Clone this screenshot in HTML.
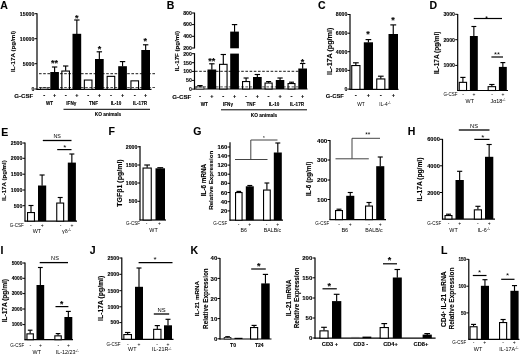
<!DOCTYPE html>
<html><head><meta charset="utf-8"><title>Figure</title>
<style>
html,body{margin:0;padding:0;background:#fff;}
body{width:520px;height:355px;overflow:hidden;}
svg{display:block;font-family:"Liberation Sans",sans-serif;}
</style></head><body>
<svg width="520" height="355" viewBox="0 0 520 355">
<rect width="520" height="355" fill="#fff"/>
<g filter="url(#soft)">
<defs><filter id="soft" x="-2%" y="-2%" width="104%" height="104%"><feGaussianBlur stdDeviation="0.3"/></filter></defs>
<text x="0.20" y="9.20" font-size="10.5" font-weight="700" stroke="#000" stroke-width="0.12" text-anchor="start" fill="#000">A</text>
<line x1="37.00" y1="13.30" x2="37.00" y2="89.75" stroke="#000" stroke-width="1.2"/>
<line x1="36.60" y1="89.30" x2="151.50" y2="89.30" stroke="#000" stroke-width="1.2"/>
<line x1="34.50" y1="13.70" x2="37.00" y2="13.70" stroke="#000" stroke-width="1.0"/>
<text x="34.30" y="15.57" font-size="5.2" font-weight="700" stroke="#000" stroke-width="0.12" text-anchor="end" fill="#000">15000</text>
<line x1="34.50" y1="38.70" x2="37.00" y2="38.70" stroke="#000" stroke-width="1.0"/>
<text x="34.30" y="40.57" font-size="5.2" font-weight="700" stroke="#000" stroke-width="0.12" text-anchor="end" fill="#000">10000</text>
<line x1="34.50" y1="63.70" x2="37.00" y2="63.70" stroke="#000" stroke-width="1.0"/>
<text x="34.30" y="65.57" font-size="5.2" font-weight="700" stroke="#000" stroke-width="0.12" text-anchor="end" fill="#000">5000</text>
<line x1="34.50" y1="89.00" x2="37.00" y2="89.00" stroke="#000" stroke-width="1.0"/>
<text x="34.30" y="90.87" font-size="5.2" font-weight="700" stroke="#000" stroke-width="0.12" text-anchor="end" fill="#000">0</text>
<text x="14.90" y="51.40" font-size="6.21" font-weight="700" stroke="#000" stroke-width="0.12" text-anchor="middle" fill="#000" transform="rotate(-90 14.90 51.40)">IL-17A (pg/ml)</text>
<rect x="40.35" y="87.95" width="7.60" height="1.35" fill="#fff" stroke="#000" stroke-width="0.7"/>
<line x1="54.60" y1="67.00" x2="54.60" y2="72.30" stroke="#000" stroke-width="1.15"/>
<line x1="51.93" y1="67.00" x2="57.27" y2="67.00" stroke="#000" stroke-width="1.15"/>
<rect x="50.30" y="72.00" width="8.60" height="17.30" fill="#000"/>
<line x1="65.65" y1="66.00" x2="65.65" y2="70.80" stroke="#000" stroke-width="1.15"/>
<line x1="62.95" y1="66.00" x2="68.35" y2="66.00" stroke="#000" stroke-width="1.15"/>
<rect x="61.85" y="71.05" width="7.60" height="18.25" fill="#fff" stroke="#000" stroke-width="1.1"/>
<line x1="76.85" y1="20.00" x2="76.85" y2="34.10" stroke="#000" stroke-width="1.15"/>
<line x1="74.15" y1="20.00" x2="79.55" y2="20.00" stroke="#000" stroke-width="1.15"/>
<rect x="72.50" y="33.80" width="8.70" height="55.50" fill="#000"/>
<rect x="84.35" y="80.05" width="7.60" height="9.25" fill="#fff" stroke="#000" stroke-width="1.1"/>
<line x1="99.35" y1="51.80" x2="99.35" y2="59.30" stroke="#000" stroke-width="1.15"/>
<line x1="96.65" y1="51.80" x2="102.05" y2="51.80" stroke="#000" stroke-width="1.15"/>
<rect x="95.00" y="59.00" width="8.70" height="30.30" fill="#000"/>
<rect x="107.15" y="76.35" width="7.60" height="12.95" fill="#fff" stroke="#000" stroke-width="1.1"/>
<line x1="122.55" y1="61.60" x2="122.55" y2="66.50" stroke="#000" stroke-width="1.15"/>
<line x1="119.85" y1="61.60" x2="125.25" y2="61.60" stroke="#000" stroke-width="1.15"/>
<rect x="118.20" y="66.20" width="8.70" height="23.10" fill="#000"/>
<rect x="130.95" y="80.85" width="7.60" height="8.45" fill="#fff" stroke="#000" stroke-width="1.1"/>
<line x1="145.65" y1="44.80" x2="145.65" y2="50.30" stroke="#000" stroke-width="1.15"/>
<line x1="142.95" y1="44.80" x2="148.35" y2="44.80" stroke="#000" stroke-width="1.15"/>
<rect x="141.30" y="50.00" width="8.70" height="39.30" fill="#000"/>
<line x1="39" y1="73.7" x2="155.5" y2="73.7" stroke="#000" stroke-width="0.9" stroke-dasharray="2.6 1.6"/>
<line x1="39" y1="87.5" x2="155.5" y2="87.5" stroke="#000" stroke-width="0.7" stroke-dasharray="2.6 1.6"/>
<text x="54.50" y="66.09" font-size="9" font-weight="700" stroke="#000" stroke-width="0.12" text-anchor="middle" fill="#000">**</text>
<text x="76.80" y="21.09" font-size="9" font-weight="700" stroke="#000" stroke-width="0.12" text-anchor="middle" fill="#000">*</text>
<text x="99.60" y="51.89" font-size="9" font-weight="700" stroke="#000" stroke-width="0.12" text-anchor="middle" fill="#000">*</text>
<text x="145.20" y="44.49" font-size="9" font-weight="700" stroke="#000" stroke-width="0.12" text-anchor="middle" fill="#000">*</text>
<text x="33.30" y="97.60" font-size="6.1" font-weight="700" stroke="#000" stroke-width="0.12" text-anchor="end" fill="#000">G-CSF</text>
<text x="44.15" y="97.20" font-size="6" font-weight="700" stroke="#000" stroke-width="0.12" text-anchor="middle" fill="#000">-</text>
<text x="54.60" y="97.20" font-size="5.5" font-weight="700" stroke="#000" stroke-width="0.12" text-anchor="middle" fill="#000">+</text>
<text x="65.65" y="97.20" font-size="6" font-weight="700" stroke="#000" stroke-width="0.12" text-anchor="middle" fill="#000">-</text>
<text x="76.85" y="97.20" font-size="5.5" font-weight="700" stroke="#000" stroke-width="0.12" text-anchor="middle" fill="#000">+</text>
<text x="88.15" y="97.20" font-size="6" font-weight="700" stroke="#000" stroke-width="0.12" text-anchor="middle" fill="#000">-</text>
<text x="99.35" y="97.20" font-size="5.5" font-weight="700" stroke="#000" stroke-width="0.12" text-anchor="middle" fill="#000">+</text>
<text x="110.95" y="97.20" font-size="6" font-weight="700" stroke="#000" stroke-width="0.12" text-anchor="middle" fill="#000">-</text>
<text x="122.55" y="97.20" font-size="5.5" font-weight="700" stroke="#000" stroke-width="0.12" text-anchor="middle" fill="#000">+</text>
<text x="134.75" y="97.20" font-size="6" font-weight="700" stroke="#000" stroke-width="0.12" text-anchor="middle" fill="#000">-</text>
<text x="145.65" y="97.20" font-size="5.5" font-weight="700" stroke="#000" stroke-width="0.12" text-anchor="middle" fill="#000">+</text>
<text x="49.60" y="105.00" font-size="4.6" font-weight="700" stroke="#000" stroke-width="0.12" text-anchor="middle" fill="#000">WT</text>
<text x="71.30" y="105.00" font-size="4.6" font-weight="700" stroke="#000" stroke-width="0.12" text-anchor="middle" fill="#000">IFNγ</text>
<text x="93.50" y="105.00" font-size="4.6" font-weight="700" stroke="#000" stroke-width="0.12" text-anchor="middle" fill="#000">TNF</text>
<text x="116.00" y="105.00" font-size="4.6" font-weight="700" stroke="#000" stroke-width="0.12" text-anchor="middle" fill="#000">IL-10</text>
<text x="140.00" y="105.00" font-size="4.6" font-weight="700" stroke="#000" stroke-width="0.12" text-anchor="middle" fill="#000">IL-17R</text>
<line x1="63.50" y1="109.30" x2="150.00" y2="109.30" stroke="#000" stroke-width="1.0"/>
<text x="108.00" y="116.40" font-size="4.8" font-weight="700" stroke="#000" stroke-width="0.12" text-anchor="middle" fill="#000">KO animals</text>
<text x="166.70" y="9.20" font-size="10.5" font-weight="700" stroke="#000" stroke-width="0.12" text-anchor="start" fill="#000">B</text>
<line x1="194.50" y1="12.60" x2="194.50" y2="48.40" stroke="#000" stroke-width="1.2"/>
<line x1="194.50" y1="53.20" x2="194.50" y2="89.45" stroke="#000" stroke-width="1.2"/>
<line x1="194.10" y1="89.00" x2="307.50" y2="89.00" stroke="#000" stroke-width="1.2"/>
<line x1="192.00" y1="13.00" x2="194.50" y2="13.00" stroke="#000" stroke-width="1.0"/>
<text x="191.80" y="14.85" font-size="5.2" font-weight="700" stroke="#000" stroke-width="0.12" text-anchor="end" fill="#000">800</text>
<line x1="192.00" y1="24.60" x2="194.50" y2="24.60" stroke="#000" stroke-width="1.0"/>
<text x="191.80" y="26.45" font-size="5.2" font-weight="700" stroke="#000" stroke-width="0.12" text-anchor="end" fill="#000">600</text>
<line x1="192.00" y1="36.30" x2="194.50" y2="36.30" stroke="#000" stroke-width="1.0"/>
<text x="191.80" y="38.15" font-size="5.2" font-weight="700" stroke="#000" stroke-width="0.12" text-anchor="end" fill="#000">400</text>
<line x1="192.00" y1="48.00" x2="194.50" y2="48.00" stroke="#000" stroke-width="1.0"/>
<text x="191.80" y="49.85" font-size="5.2" font-weight="700" stroke="#000" stroke-width="0.12" text-anchor="end" fill="#000">200</text>
<line x1="192.00" y1="53.70" x2="194.50" y2="53.70" stroke="#000" stroke-width="1.0"/>
<text x="191.80" y="55.55" font-size="5.2" font-weight="700" stroke="#000" stroke-width="0.12" text-anchor="end" fill="#000">200</text>
<line x1="192.00" y1="62.70" x2="194.50" y2="62.70" stroke="#000" stroke-width="1.0"/>
<text x="191.80" y="64.55" font-size="5.2" font-weight="700" stroke="#000" stroke-width="0.12" text-anchor="end" fill="#000">150</text>
<line x1="192.00" y1="71.40" x2="194.50" y2="71.40" stroke="#000" stroke-width="1.0"/>
<text x="191.80" y="73.25" font-size="5.2" font-weight="700" stroke="#000" stroke-width="0.12" text-anchor="end" fill="#000">100</text>
<line x1="192.00" y1="80.40" x2="194.50" y2="80.40" stroke="#000" stroke-width="1.0"/>
<text x="191.80" y="82.25" font-size="5.2" font-weight="700" stroke="#000" stroke-width="0.12" text-anchor="end" fill="#000">50</text>
<line x1="192.00" y1="89.10" x2="194.50" y2="89.10" stroke="#000" stroke-width="1.0"/>
<text x="191.80" y="90.95" font-size="5.2" font-weight="700" stroke="#000" stroke-width="0.12" text-anchor="end" fill="#000">0</text>
<text x="178.80" y="51.10" font-size="6.13" font-weight="700" stroke="#000" stroke-width="0.12" text-anchor="middle" fill="#000" transform="rotate(-90 178.80 51.10)">IL-17F (pg/ml)</text>
<line x1="199.95" y1="85.60" x2="199.95" y2="86.90" stroke="#000" stroke-width="1.15"/>
<line x1="197.25" y1="85.60" x2="202.65" y2="85.60" stroke="#000" stroke-width="1.15"/>
<rect x="195.95" y="86.95" width="8.00" height="2.05" fill="#fff" stroke="#000" stroke-width="0.7"/>
<line x1="211.85" y1="63.80" x2="211.85" y2="69.80" stroke="#000" stroke-width="1.15"/>
<line x1="209.15" y1="63.80" x2="214.55" y2="63.80" stroke="#000" stroke-width="1.15"/>
<rect x="207.50" y="69.50" width="8.70" height="19.50" fill="#000"/>
<line x1="223.30" y1="54.50" x2="223.30" y2="64.10" stroke="#000" stroke-width="1.15"/>
<line x1="220.63" y1="54.50" x2="225.97" y2="54.50" stroke="#000" stroke-width="1.15"/>
<rect x="219.55" y="64.35" width="7.50" height="24.65" fill="#fff" stroke="#000" stroke-width="1.1"/>
<line x1="234.55" y1="24.60" x2="234.55" y2="31.90" stroke="#000" stroke-width="1.15"/>
<line x1="231.85" y1="24.60" x2="237.25" y2="24.60" stroke="#000" stroke-width="1.15"/>
<rect x="230.20" y="31.60" width="8.70" height="57.40" fill="#000"/>
<line x1="246.10" y1="78.00" x2="246.10" y2="81.30" stroke="#000" stroke-width="1.15"/>
<line x1="243.56" y1="78.00" x2="248.64" y2="78.00" stroke="#000" stroke-width="1.15"/>
<rect x="242.55" y="81.55" width="7.10" height="7.45" fill="#fff" stroke="#000" stroke-width="1.1"/>
<line x1="257.35" y1="74.50" x2="257.35" y2="77.30" stroke="#000" stroke-width="1.15"/>
<line x1="254.65" y1="74.50" x2="260.05" y2="74.50" stroke="#000" stroke-width="1.15"/>
<rect x="253.00" y="77.00" width="8.70" height="12.00" fill="#000"/>
<line x1="268.60" y1="81.60" x2="268.60" y2="82.80" stroke="#000" stroke-width="1.15"/>
<line x1="266.06" y1="81.60" x2="271.14" y2="81.60" stroke="#000" stroke-width="1.15"/>
<rect x="265.05" y="83.05" width="7.10" height="5.95" fill="#fff" stroke="#000" stroke-width="1.1"/>
<line x1="280.05" y1="78.00" x2="280.05" y2="80.30" stroke="#000" stroke-width="1.15"/>
<line x1="277.42" y1="78.00" x2="282.69" y2="78.00" stroke="#000" stroke-width="1.15"/>
<rect x="275.80" y="80.00" width="8.50" height="9.00" fill="#000"/>
<line x1="291.50" y1="82.20" x2="291.50" y2="83.30" stroke="#000" stroke-width="1.15"/>
<line x1="289.02" y1="82.20" x2="293.98" y2="82.20" stroke="#000" stroke-width="1.15"/>
<rect x="288.05" y="83.55" width="6.90" height="5.45" fill="#fff" stroke="#000" stroke-width="1.1"/>
<line x1="302.65" y1="63.50" x2="302.65" y2="68.80" stroke="#000" stroke-width="1.15"/>
<line x1="299.95" y1="63.50" x2="305.35" y2="63.50" stroke="#000" stroke-width="1.15"/>
<rect x="298.30" y="68.50" width="8.70" height="20.50" fill="#000"/>
<rect x="229.5" y="48.3" width="11" height="5.3" fill="#fff"/>
<line x1="195" y1="71.3" x2="307.5" y2="71.3" stroke="#000" stroke-width="0.9" stroke-dasharray="2.6 1.6"/>
<line x1="195" y1="86.9" x2="307.5" y2="86.9" stroke="#000" stroke-width="0.7" stroke-dasharray="2.6 1.6"/>
<text x="211.80" y="63.79" font-size="9" font-weight="700" stroke="#000" stroke-width="0.12" text-anchor="middle" fill="#000">**</text>
<text x="302.60" y="64.59" font-size="9" font-weight="700" stroke="#000" stroke-width="0.12" text-anchor="middle" fill="#000">*</text>
<text x="191.30" y="98.90" font-size="6.1" font-weight="700" stroke="#000" stroke-width="0.12" text-anchor="end" fill="#000">G-CSF</text>
<text x="199.95" y="98.10" font-size="6" font-weight="700" stroke="#000" stroke-width="0.12" text-anchor="middle" fill="#000">-</text>
<text x="211.85" y="98.10" font-size="5.5" font-weight="700" stroke="#000" stroke-width="0.12" text-anchor="middle" fill="#000">+</text>
<text x="223.30" y="98.10" font-size="6" font-weight="700" stroke="#000" stroke-width="0.12" text-anchor="middle" fill="#000">-</text>
<text x="234.55" y="98.10" font-size="5.5" font-weight="700" stroke="#000" stroke-width="0.12" text-anchor="middle" fill="#000">+</text>
<text x="246.10" y="98.10" font-size="6" font-weight="700" stroke="#000" stroke-width="0.12" text-anchor="middle" fill="#000">-</text>
<text x="257.35" y="98.10" font-size="5.5" font-weight="700" stroke="#000" stroke-width="0.12" text-anchor="middle" fill="#000">+</text>
<text x="268.60" y="98.10" font-size="6" font-weight="700" stroke="#000" stroke-width="0.12" text-anchor="middle" fill="#000">-</text>
<text x="280.05" y="98.10" font-size="5.5" font-weight="700" stroke="#000" stroke-width="0.12" text-anchor="middle" fill="#000">+</text>
<text x="291.50" y="98.10" font-size="6" font-weight="700" stroke="#000" stroke-width="0.12" text-anchor="middle" fill="#000">-</text>
<text x="302.65" y="98.10" font-size="5.5" font-weight="700" stroke="#000" stroke-width="0.12" text-anchor="middle" fill="#000">+</text>
<text x="204.30" y="106.00" font-size="4.6" font-weight="700" stroke="#000" stroke-width="0.12" text-anchor="middle" fill="#000">WT</text>
<text x="228.00" y="106.00" font-size="4.6" font-weight="700" stroke="#000" stroke-width="0.12" text-anchor="middle" fill="#000">IFNγ</text>
<text x="251.00" y="106.00" font-size="4.6" font-weight="700" stroke="#000" stroke-width="0.12" text-anchor="middle" fill="#000">TNF</text>
<text x="274.00" y="106.00" font-size="4.6" font-weight="700" stroke="#000" stroke-width="0.12" text-anchor="middle" fill="#000">IL-10</text>
<text x="297.00" y="106.00" font-size="4.6" font-weight="700" stroke="#000" stroke-width="0.12" text-anchor="middle" fill="#000">IL-17R</text>
<line x1="221.00" y1="109.80" x2="307.00" y2="109.80" stroke="#000" stroke-width="1.0"/>
<text x="264.00" y="117.00" font-size="4.8" font-weight="700" stroke="#000" stroke-width="0.12" text-anchor="middle" fill="#000">KO animals</text>
<text x="318.00" y="9.20" font-size="10.5" font-weight="700" stroke="#000" stroke-width="0.12" text-anchor="start" fill="#000">C</text>
<line x1="350.00" y1="14.10" x2="350.00" y2="89.85" stroke="#000" stroke-width="1.2"/>
<line x1="349.60" y1="89.40" x2="398.50" y2="89.40" stroke="#000" stroke-width="1.2"/>
<line x1="347.50" y1="14.50" x2="350.00" y2="14.50" stroke="#000" stroke-width="1.0"/>
<text x="347.30" y="16.37" font-size="5.2" font-weight="700" stroke="#000" stroke-width="0.12" text-anchor="end" fill="#000">8000</text>
<line x1="347.50" y1="33.20" x2="350.00" y2="33.20" stroke="#000" stroke-width="1.0"/>
<text x="347.30" y="35.07" font-size="5.2" font-weight="700" stroke="#000" stroke-width="0.12" text-anchor="end" fill="#000">6000</text>
<line x1="347.50" y1="51.70" x2="350.00" y2="51.70" stroke="#000" stroke-width="1.0"/>
<text x="347.30" y="53.57" font-size="5.2" font-weight="700" stroke="#000" stroke-width="0.12" text-anchor="end" fill="#000">4000</text>
<line x1="347.50" y1="70.40" x2="350.00" y2="70.40" stroke="#000" stroke-width="1.0"/>
<text x="347.30" y="72.27" font-size="5.2" font-weight="700" stroke="#000" stroke-width="0.12" text-anchor="end" fill="#000">2000</text>
<line x1="347.50" y1="89.10" x2="350.00" y2="89.10" stroke="#000" stroke-width="1.0"/>
<text x="347.30" y="90.97" font-size="5.2" font-weight="700" stroke="#000" stroke-width="0.12" text-anchor="end" fill="#000">0</text>
<text x="332.20" y="51.40" font-size="7.15" font-weight="700" stroke="#000" stroke-width="0.12" text-anchor="middle" fill="#000" transform="rotate(-90 332.20 51.40)">IL-17A (pg/ml)</text>
<line x1="355.85" y1="62.80" x2="355.85" y2="65.30" stroke="#000" stroke-width="1.15"/>
<line x1="352.97" y1="62.80" x2="358.73" y2="62.80" stroke="#000" stroke-width="1.15"/>
<rect x="351.75" y="65.55" width="8.20" height="23.85" fill="#fff" stroke="#000" stroke-width="1.1"/>
<line x1="368.40" y1="39.60" x2="368.40" y2="42.60" stroke="#000" stroke-width="1.15"/>
<line x1="365.55" y1="39.60" x2="371.25" y2="39.60" stroke="#000" stroke-width="1.15"/>
<rect x="363.80" y="42.30" width="9.20" height="47.10" fill="#000"/>
<line x1="380.80" y1="76.20" x2="380.80" y2="78.70" stroke="#000" stroke-width="1.15"/>
<line x1="377.95" y1="76.20" x2="383.65" y2="76.20" stroke="#000" stroke-width="1.15"/>
<rect x="376.75" y="78.95" width="8.10" height="10.45" fill="#fff" stroke="#000" stroke-width="1.1"/>
<line x1="393.25" y1="24.90" x2="393.25" y2="34.30" stroke="#000" stroke-width="1.15"/>
<line x1="390.31" y1="24.90" x2="396.19" y2="24.90" stroke="#000" stroke-width="1.15"/>
<rect x="388.50" y="34.00" width="9.50" height="55.40" fill="#000"/>
<text x="368.00" y="37.39" font-size="9" font-weight="700" stroke="#000" stroke-width="0.12" text-anchor="middle" fill="#000">*</text>
<text x="393.00" y="23.19" font-size="9" font-weight="700" stroke="#000" stroke-width="0.12" text-anchor="middle" fill="#000">*</text>
<text x="343.90" y="98.00" font-size="5.8" font-weight="700" stroke="#000" stroke-width="0.12" text-anchor="end" fill="#000">G-CSF</text>
<text x="355.85" y="97.20" font-size="6" font-weight="700" stroke="#000" stroke-width="0.12" text-anchor="middle" fill="#000">-</text>
<text x="368.40" y="97.20" font-size="5.5" font-weight="700" stroke="#000" stroke-width="0.12" text-anchor="middle" fill="#000">+</text>
<text x="380.80" y="97.20" font-size="6" font-weight="700" stroke="#000" stroke-width="0.12" text-anchor="middle" fill="#000">-</text>
<text x="393.25" y="97.20" font-size="5.5" font-weight="700" stroke="#000" stroke-width="0.12" text-anchor="middle" fill="#000">+</text>
<text x="361.00" y="105.80" font-size="4.8" text-anchor="middle" fill="#000">WT</text>
<text x="385.00" y="105.80" font-size="4.8" text-anchor="middle" fill="#000">IL-4<tspan font-size="3.2" dy="-1.8">-/-</tspan></text>
<text x="429.50" y="9.20" font-size="10.5" font-weight="700" stroke="#000" stroke-width="0.12" text-anchor="start" fill="#000">D</text>
<line x1="457.70" y1="13.90" x2="457.70" y2="90.95" stroke="#000" stroke-width="1.2"/>
<line x1="457.30" y1="90.50" x2="508.00" y2="90.50" stroke="#000" stroke-width="1.2"/>
<line x1="455.20" y1="14.30" x2="457.70" y2="14.30" stroke="#000" stroke-width="1.0"/>
<text x="455.00" y="16.17" font-size="5.2" font-weight="700" stroke="#000" stroke-width="0.12" text-anchor="end" fill="#000">3000</text>
<line x1="455.20" y1="39.70" x2="457.70" y2="39.70" stroke="#000" stroke-width="1.0"/>
<text x="455.00" y="41.57" font-size="5.2" font-weight="700" stroke="#000" stroke-width="0.12" text-anchor="end" fill="#000">2000</text>
<line x1="455.20" y1="65.40" x2="457.70" y2="65.40" stroke="#000" stroke-width="1.0"/>
<text x="455.00" y="67.27" font-size="5.2" font-weight="700" stroke="#000" stroke-width="0.12" text-anchor="end" fill="#000">1000</text>
<text x="439.30" y="52.80" font-size="6.43" font-weight="700" stroke="#000" stroke-width="0.12" text-anchor="middle" fill="#000" transform="rotate(-90 439.30 52.80)">IL-17A (pg/ml)</text>
<line x1="462.90" y1="77.40" x2="462.90" y2="82.10" stroke="#000" stroke-width="1.15"/>
<line x1="460.30" y1="77.40" x2="465.50" y2="77.40" stroke="#000" stroke-width="1.15"/>
<rect x="459.25" y="82.35" width="7.30" height="8.15" fill="#fff" stroke="#000" stroke-width="1.1"/>
<line x1="473.85" y1="26.50" x2="473.85" y2="36.30" stroke="#000" stroke-width="1.15"/>
<line x1="471.40" y1="26.50" x2="476.30" y2="26.50" stroke="#000" stroke-width="1.15"/>
<rect x="469.90" y="36.00" width="7.90" height="54.50" fill="#000"/>
<line x1="491.85" y1="84.50" x2="491.85" y2="86.40" stroke="#000" stroke-width="1.15"/>
<line x1="489.22" y1="84.50" x2="494.49" y2="84.50" stroke="#000" stroke-width="1.15"/>
<rect x="488.15" y="86.65" width="7.40" height="3.85" fill="#fff" stroke="#000" stroke-width="1.1"/>
<line x1="502.85" y1="62.60" x2="502.85" y2="67.20" stroke="#000" stroke-width="1.15"/>
<line x1="500.40" y1="62.60" x2="505.30" y2="62.60" stroke="#000" stroke-width="1.15"/>
<rect x="498.90" y="66.90" width="7.90" height="23.60" fill="#000"/>
<line x1="473.80" y1="18.50" x2="502.00" y2="18.50" stroke="#000" stroke-width="1.2"/>
<text x="486.50" y="20.58" font-size="8" text-anchor="middle" fill="#000">*</text>
<line x1="491.40" y1="57.00" x2="503.00" y2="57.00" stroke="#000" stroke-width="1.2"/>
<text x="496.90" y="56.73" font-size="7.5" text-anchor="middle" fill="#000">**</text>
<text x="457.40" y="96.30" font-size="4.5" text-anchor="end" fill="#000">G-CSF</text>
<text x="463.00" y="96.40" font-size="5" text-anchor="middle" fill="#000">-</text>
<text x="474.00" y="96.40" font-size="5" text-anchor="middle" fill="#000">+</text>
<text x="492.00" y="96.40" font-size="5" text-anchor="middle" fill="#000">-</text>
<text x="503.00" y="96.40" font-size="5" text-anchor="middle" fill="#000">+</text>
<text x="469.80" y="103.20" font-size="5.4" text-anchor="middle" fill="#000">WT</text>
<text x="498.00" y="103.20" font-size="5.4" text-anchor="middle" fill="#000">Jα18<tspan font-size="3.4" dy="-1.8">-/-</tspan></text>
<text x="1.20" y="135.60" font-size="10.5" font-weight="700" stroke="#000" stroke-width="0.12" text-anchor="start" fill="#000">E</text>
<line x1="25.00" y1="142.60" x2="25.00" y2="221.55" stroke="#000" stroke-width="1.2"/>
<line x1="24.60" y1="221.10" x2="77.00" y2="221.10" stroke="#000" stroke-width="1.2"/>
<line x1="22.50" y1="143.00" x2="25.00" y2="143.00" stroke="#000" stroke-width="1.0"/>
<text x="22.30" y="144.87" font-size="5.2" font-weight="700" stroke="#000" stroke-width="0.12" text-anchor="end" fill="#000">2500</text>
<line x1="22.50" y1="158.30" x2="25.00" y2="158.30" stroke="#000" stroke-width="1.0"/>
<text x="22.30" y="160.17" font-size="5.2" font-weight="700" stroke="#000" stroke-width="0.12" text-anchor="end" fill="#000">2000</text>
<line x1="22.50" y1="174.20" x2="25.00" y2="174.20" stroke="#000" stroke-width="1.0"/>
<text x="22.30" y="176.07" font-size="5.2" font-weight="700" stroke="#000" stroke-width="0.12" text-anchor="end" fill="#000">1500</text>
<line x1="22.50" y1="190.00" x2="25.00" y2="190.00" stroke="#000" stroke-width="1.0"/>
<text x="22.30" y="191.87" font-size="5.2" font-weight="700" stroke="#000" stroke-width="0.12" text-anchor="end" fill="#000">1000</text>
<line x1="22.50" y1="205.70" x2="25.00" y2="205.70" stroke="#000" stroke-width="1.0"/>
<text x="22.30" y="207.57" font-size="5.2" font-weight="700" stroke="#000" stroke-width="0.12" text-anchor="end" fill="#000">500</text>
<text x="5.60" y="180.50" font-size="6.12" font-weight="700" stroke="#000" stroke-width="0.12" text-anchor="middle" fill="#000" transform="rotate(-90 5.60 180.50)">IL-17A (pg/ml)</text>
<line x1="31.00" y1="205.50" x2="31.00" y2="212.30" stroke="#000" stroke-width="1.15"/>
<line x1="28.52" y1="205.50" x2="33.48" y2="205.50" stroke="#000" stroke-width="1.15"/>
<rect x="27.55" y="212.55" width="6.90" height="8.55" fill="#fff" stroke="#000" stroke-width="1.1"/>
<line x1="42.10" y1="175.00" x2="42.10" y2="185.80" stroke="#000" stroke-width="1.15"/>
<line x1="39.56" y1="175.00" x2="44.64" y2="175.00" stroke="#000" stroke-width="1.15"/>
<rect x="38.00" y="185.50" width="8.20" height="35.60" fill="#000"/>
<line x1="60.20" y1="197.50" x2="60.20" y2="202.80" stroke="#000" stroke-width="1.15"/>
<line x1="57.72" y1="197.50" x2="62.68" y2="197.50" stroke="#000" stroke-width="1.15"/>
<rect x="56.75" y="203.05" width="6.90" height="18.05" fill="#fff" stroke="#000" stroke-width="1.1"/>
<line x1="71.85" y1="154.00" x2="71.85" y2="162.90" stroke="#000" stroke-width="1.15"/>
<line x1="69.34" y1="154.00" x2="74.36" y2="154.00" stroke="#000" stroke-width="1.15"/>
<rect x="67.80" y="162.60" width="8.10" height="58.50" fill="#000"/>
<line x1="42.80" y1="140.50" x2="71.50" y2="140.50" stroke="#000" stroke-width="1.3"/>
<text x="57.15" y="138.30" font-size="5.3" text-anchor="middle" fill="#000">NS</text>
<line x1="57.20" y1="149.60" x2="71.50" y2="149.60" stroke="#000" stroke-width="1.2"/>
<text x="64.70" y="150.38" font-size="8" text-anchor="middle" fill="#000">*</text>
<text x="23.70" y="226.90" font-size="4.5" text-anchor="end" fill="#000">G-CSF</text>
<text x="30.80" y="227.00" font-size="5" text-anchor="middle" fill="#000">-</text>
<text x="42.30" y="227.00" font-size="5" text-anchor="middle" fill="#000">+</text>
<text x="60.50" y="227.00" font-size="5" text-anchor="middle" fill="#000">-</text>
<text x="72.00" y="227.00" font-size="5" text-anchor="middle" fill="#000">+</text>
<text x="36.90" y="233.00" font-size="5.4" text-anchor="middle" fill="#000">WT</text>
<text x="66.50" y="233.00" font-size="5.4" text-anchor="middle" fill="#000">γδ<tspan font-size="3.4" dy="-1.8">-/-</tspan></text>
<text x="108.50" y="135.20" font-size="10.5" font-weight="700" stroke="#000" stroke-width="0.12" text-anchor="start" fill="#000">F</text>
<line x1="140.00" y1="145.90" x2="140.00" y2="220.45" stroke="#000" stroke-width="1.2"/>
<line x1="139.60" y1="220.00" x2="166.00" y2="220.00" stroke="#000" stroke-width="1.2"/>
<line x1="137.50" y1="146.80" x2="140.00" y2="146.80" stroke="#000" stroke-width="1.0"/>
<text x="137.30" y="148.67" font-size="5.2" font-weight="700" stroke="#000" stroke-width="0.12" text-anchor="end" fill="#000">2000</text>
<line x1="137.50" y1="165.00" x2="140.00" y2="165.00" stroke="#000" stroke-width="1.0"/>
<text x="137.30" y="166.87" font-size="5.2" font-weight="700" stroke="#000" stroke-width="0.12" text-anchor="end" fill="#000">1500</text>
<line x1="137.50" y1="183.00" x2="140.00" y2="183.00" stroke="#000" stroke-width="1.0"/>
<text x="137.30" y="184.87" font-size="5.2" font-weight="700" stroke="#000" stroke-width="0.12" text-anchor="end" fill="#000">1000</text>
<line x1="137.50" y1="201.30" x2="140.00" y2="201.30" stroke="#000" stroke-width="1.0"/>
<text x="137.30" y="203.17" font-size="5.2" font-weight="700" stroke="#000" stroke-width="0.12" text-anchor="end" fill="#000">500</text>
<text x="121.70" y="183.00" font-size="6.99" font-weight="700" stroke="#000" stroke-width="0.12" text-anchor="middle" fill="#000" transform="rotate(-90 121.70 183.00)">TGFβ1 (pg/ml)</text>
<line x1="147.15" y1="165.00" x2="147.15" y2="167.80" stroke="#000" stroke-width="1.15"/>
<line x1="144.27" y1="165.00" x2="150.03" y2="165.00" stroke="#000" stroke-width="1.15"/>
<rect x="143.05" y="168.05" width="8.20" height="51.95" fill="#fff" stroke="#000" stroke-width="1.1"/>
<line x1="160.25" y1="167.70" x2="160.25" y2="168.60" stroke="#000" stroke-width="1.15"/>
<line x1="157.31" y1="167.70" x2="163.19" y2="167.70" stroke="#000" stroke-width="1.15"/>
<rect x="155.50" y="168.30" width="9.50" height="51.70" fill="#000"/>
<text x="140.00" y="225.20" font-size="4.5" text-anchor="end" fill="#000">G-CSF</text>
<text x="146.50" y="225.30" font-size="5" text-anchor="middle" fill="#000">-</text>
<text x="159.50" y="225.30" font-size="5" text-anchor="middle" fill="#000">+</text>
<text x="153.50" y="232.00" font-size="5.4" text-anchor="middle" fill="#000">WT</text>
<text x="193.30" y="135.20" font-size="10.5" font-weight="700" stroke="#000" stroke-width="0.12" text-anchor="start" fill="#000">G</text>
<line x1="230.00" y1="142.20" x2="230.00" y2="220.65" stroke="#000" stroke-width="1.2"/>
<line x1="229.60" y1="220.20" x2="283.00" y2="220.20" stroke="#000" stroke-width="1.2"/>
<line x1="227.50" y1="147.00" x2="230.00" y2="147.00" stroke="#000" stroke-width="1.0"/>
<text x="227.30" y="149.12" font-size="5.9" font-weight="700" stroke="#000" stroke-width="0.12" text-anchor="end" fill="#000">160</text>
<line x1="227.50" y1="155.90" x2="230.00" y2="155.90" stroke="#000" stroke-width="1.0"/>
<text x="227.30" y="158.02" font-size="5.9" font-weight="700" stroke="#000" stroke-width="0.12" text-anchor="end" fill="#000">140</text>
<line x1="227.50" y1="165.10" x2="230.00" y2="165.10" stroke="#000" stroke-width="1.0"/>
<text x="227.30" y="167.22" font-size="5.9" font-weight="700" stroke="#000" stroke-width="0.12" text-anchor="end" fill="#000">120</text>
<line x1="227.50" y1="174.20" x2="230.00" y2="174.20" stroke="#000" stroke-width="1.0"/>
<text x="227.30" y="176.32" font-size="5.9" font-weight="700" stroke="#000" stroke-width="0.12" text-anchor="end" fill="#000">100</text>
<line x1="227.50" y1="183.30" x2="230.00" y2="183.30" stroke="#000" stroke-width="1.0"/>
<text x="227.30" y="185.42" font-size="5.9" font-weight="700" stroke="#000" stroke-width="0.12" text-anchor="end" fill="#000">80</text>
<line x1="227.50" y1="192.50" x2="230.00" y2="192.50" stroke="#000" stroke-width="1.0"/>
<text x="227.30" y="194.62" font-size="5.9" font-weight="700" stroke="#000" stroke-width="0.12" text-anchor="end" fill="#000">60</text>
<line x1="227.50" y1="201.70" x2="230.00" y2="201.70" stroke="#000" stroke-width="1.0"/>
<text x="227.30" y="203.82" font-size="5.9" font-weight="700" stroke="#000" stroke-width="0.12" text-anchor="end" fill="#000">40</text>
<line x1="227.50" y1="210.90" x2="230.00" y2="210.90" stroke="#000" stroke-width="1.0"/>
<text x="227.30" y="213.02" font-size="5.9" font-weight="700" stroke="#000" stroke-width="0.12" text-anchor="end" fill="#000">20</text>
<text x="205.60" y="180.00" font-size="6.32" font-weight="700" stroke="#000" stroke-width="0.12" text-anchor="middle" fill="#000" transform="rotate(-90 205.60 180.00)">IL-6 mRNA</text>
<text x="213.00" y="180.30" font-size="6.22" font-weight="700" stroke="#000" stroke-width="0.12" text-anchor="middle" fill="#000" transform="rotate(-90 213.00 180.30)">Relative Expression</text>
<line x1="238.80" y1="191.40" x2="238.80" y2="192.30" stroke="#000" stroke-width="1.15"/>
<line x1="236.44" y1="191.40" x2="241.16" y2="191.40" stroke="#000" stroke-width="1.15"/>
<rect x="235.55" y="192.55" width="6.50" height="27.65" fill="#fff" stroke="#000" stroke-width="1.1"/>
<line x1="249.80" y1="185.50" x2="249.80" y2="186.60" stroke="#000" stroke-width="1.15"/>
<line x1="247.32" y1="185.50" x2="252.28" y2="185.50" stroke="#000" stroke-width="1.15"/>
<rect x="245.80" y="186.30" width="8.00" height="33.90" fill="#000"/>
<line x1="266.90" y1="183.00" x2="266.90" y2="189.80" stroke="#000" stroke-width="1.15"/>
<line x1="264.48" y1="183.00" x2="269.32" y2="183.00" stroke="#000" stroke-width="1.15"/>
<rect x="263.55" y="190.05" width="6.70" height="30.15" fill="#fff" stroke="#000" stroke-width="1.1"/>
<line x1="277.80" y1="143.00" x2="277.80" y2="152.80" stroke="#000" stroke-width="1.15"/>
<line x1="275.32" y1="143.00" x2="280.28" y2="143.00" stroke="#000" stroke-width="1.15"/>
<rect x="273.80" y="152.50" width="8.00" height="67.70" fill="#000"/>
<line x1="235.00" y1="159.50" x2="267.50" y2="159.50" stroke="#444" stroke-width="1.0"/>
<line x1="250.80" y1="140.00" x2="250.80" y2="159.50" stroke="#444" stroke-width="1.0"/>
<line x1="250.80" y1="140.00" x2="277.50" y2="140.00" stroke="#444" stroke-width="1.0"/>
<text x="264.00" y="139.60" font-size="4.5" text-anchor="middle" fill="#000">*</text>
<text x="227.30" y="225.40" font-size="4.5" text-anchor="end" fill="#000">G-CSF</text>
<text x="238.50" y="225.50" font-size="5" text-anchor="middle" fill="#000">-</text>
<text x="249.70" y="225.50" font-size="5" text-anchor="middle" fill="#000">+</text>
<text x="266.50" y="225.50" font-size="5" text-anchor="middle" fill="#000">-</text>
<text x="277.70" y="225.50" font-size="5" text-anchor="middle" fill="#000">+</text>
<text x="243.80" y="231.50" font-size="5.2" text-anchor="middle" fill="#000">B6</text>
<text x="272.50" y="231.50" font-size="5.2" text-anchor="middle" fill="#000">BALB/c</text>
<line x1="330.00" y1="140.10" x2="330.00" y2="220.05" stroke="#000" stroke-width="1.2"/>
<line x1="329.60" y1="219.60" x2="386.00" y2="219.60" stroke="#000" stroke-width="1.2"/>
<line x1="327.50" y1="140.50" x2="330.00" y2="140.50" stroke="#000" stroke-width="1.0"/>
<text x="327.30" y="142.73" font-size="6.2" font-weight="700" stroke="#000" stroke-width="0.12" text-anchor="end" fill="#000">400</text>
<line x1="327.50" y1="160.00" x2="330.00" y2="160.00" stroke="#000" stroke-width="1.0"/>
<text x="327.30" y="162.23" font-size="6.2" font-weight="700" stroke="#000" stroke-width="0.12" text-anchor="end" fill="#000">300</text>
<line x1="327.50" y1="180.00" x2="330.00" y2="180.00" stroke="#000" stroke-width="1.0"/>
<text x="327.30" y="182.23" font-size="6.2" font-weight="700" stroke="#000" stroke-width="0.12" text-anchor="end" fill="#000">200</text>
<line x1="327.50" y1="199.50" x2="330.00" y2="199.50" stroke="#000" stroke-width="1.0"/>
<text x="327.30" y="201.73" font-size="6.2" font-weight="700" stroke="#000" stroke-width="0.12" text-anchor="end" fill="#000">100</text>
<text x="311.20" y="178.80" font-size="6.37" font-weight="700" stroke="#000" stroke-width="0.12" text-anchor="middle" fill="#000" transform="rotate(-90 311.20 178.80)">IL-6 (pg/ml)</text>
<line x1="339.00" y1="209.20" x2="339.00" y2="210.30" stroke="#000" stroke-width="1.15"/>
<line x1="336.52" y1="209.20" x2="341.48" y2="209.20" stroke="#000" stroke-width="1.15"/>
<rect x="335.55" y="210.55" width="6.90" height="9.05" fill="#fff" stroke="#000" stroke-width="1.1"/>
<line x1="350.25" y1="192.50" x2="350.25" y2="196.10" stroke="#000" stroke-width="1.15"/>
<line x1="347.74" y1="192.50" x2="352.76" y2="192.50" stroke="#000" stroke-width="1.15"/>
<rect x="346.20" y="195.80" width="8.10" height="23.80" fill="#000"/>
<line x1="369.00" y1="202.50" x2="369.00" y2="205.80" stroke="#000" stroke-width="1.15"/>
<line x1="366.52" y1="202.50" x2="371.48" y2="202.50" stroke="#000" stroke-width="1.15"/>
<rect x="365.55" y="206.05" width="6.90" height="13.55" fill="#fff" stroke="#000" stroke-width="1.1"/>
<line x1="380.25" y1="157.00" x2="380.25" y2="166.50" stroke="#000" stroke-width="1.15"/>
<line x1="377.74" y1="157.00" x2="382.76" y2="157.00" stroke="#000" stroke-width="1.15"/>
<rect x="376.20" y="166.20" width="8.10" height="53.40" fill="#000"/>
<line x1="335.50" y1="158.80" x2="368.80" y2="158.80" stroke="#444" stroke-width="1.0"/>
<line x1="352.00" y1="138.30" x2="352.00" y2="158.80" stroke="#444" stroke-width="1.0"/>
<line x1="352.00" y1="138.30" x2="380.00" y2="138.30" stroke="#444" stroke-width="1.0"/>
<text x="367.80" y="136.60" font-size="6.5" text-anchor="middle" fill="#000">**</text>
<text x="329.30" y="225.40" font-size="4.5" text-anchor="end" fill="#000">G-CSF</text>
<text x="339.00" y="225.50" font-size="5" text-anchor="middle" fill="#000">-</text>
<text x="350.20" y="225.50" font-size="5" text-anchor="middle" fill="#000">+</text>
<text x="369.00" y="225.50" font-size="5" text-anchor="middle" fill="#000">-</text>
<text x="380.20" y="225.50" font-size="5" text-anchor="middle" fill="#000">+</text>
<text x="344.80" y="231.80" font-size="5.6" text-anchor="middle" fill="#000">B6</text>
<text x="374.00" y="231.50" font-size="5.2" text-anchor="middle" fill="#000">BALB/c</text>
<text x="407.80" y="134.60" font-size="10.5" font-weight="700" stroke="#000" stroke-width="0.12" text-anchor="start" fill="#000">H</text>
<line x1="442.50" y1="138.90" x2="442.50" y2="219.55" stroke="#000" stroke-width="1.2"/>
<line x1="442.10" y1="219.10" x2="495.00" y2="219.10" stroke="#000" stroke-width="1.2"/>
<line x1="440.00" y1="139.30" x2="442.50" y2="139.30" stroke="#000" stroke-width="1.0"/>
<text x="439.80" y="141.35" font-size="5.7" font-weight="700" stroke="#000" stroke-width="0.12" text-anchor="end" fill="#000">6000</text>
<line x1="440.00" y1="165.80" x2="442.50" y2="165.80" stroke="#000" stroke-width="1.0"/>
<text x="439.80" y="167.85" font-size="5.7" font-weight="700" stroke="#000" stroke-width="0.12" text-anchor="end" fill="#000">4000</text>
<line x1="440.00" y1="192.50" x2="442.50" y2="192.50" stroke="#000" stroke-width="1.0"/>
<text x="439.80" y="194.55" font-size="5.7" font-weight="700" stroke="#000" stroke-width="0.12" text-anchor="end" fill="#000">2000</text>
<text x="422.00" y="179.60" font-size="6.64" font-weight="700" stroke="#000" stroke-width="0.12" text-anchor="middle" fill="#000" transform="rotate(-90 422.00 179.60)">IL-17A (pg/ml)</text>
<line x1="448.50" y1="214.20" x2="448.50" y2="215.30" stroke="#000" stroke-width="1.15"/>
<line x1="446.02" y1="214.20" x2="450.98" y2="214.20" stroke="#000" stroke-width="1.15"/>
<rect x="445.05" y="215.55" width="6.90" height="3.55" fill="#fff" stroke="#000" stroke-width="1.1"/>
<line x1="459.65" y1="171.30" x2="459.65" y2="180.30" stroke="#000" stroke-width="1.15"/>
<line x1="457.08" y1="171.30" x2="462.22" y2="171.30" stroke="#000" stroke-width="1.15"/>
<rect x="455.50" y="180.00" width="8.30" height="39.10" fill="#000"/>
<line x1="477.90" y1="206.30" x2="477.90" y2="209.60" stroke="#000" stroke-width="1.15"/>
<line x1="475.36" y1="206.30" x2="480.44" y2="206.30" stroke="#000" stroke-width="1.15"/>
<rect x="474.35" y="209.85" width="7.10" height="9.25" fill="#fff" stroke="#000" stroke-width="1.1"/>
<line x1="489.15" y1="144.50" x2="489.15" y2="157.10" stroke="#000" stroke-width="1.15"/>
<line x1="486.58" y1="144.50" x2="491.72" y2="144.50" stroke="#000" stroke-width="1.15"/>
<rect x="485.00" y="156.80" width="8.30" height="62.30" fill="#000"/>
<line x1="458.80" y1="130.00" x2="489.50" y2="130.00" stroke="#000" stroke-width="1.3"/>
<text x="474.15" y="127.80" font-size="5.8" text-anchor="middle" fill="#000">NS</text>
<line x1="474.30" y1="139.40" x2="489.50" y2="139.40" stroke="#000" stroke-width="1.2"/>
<text x="482.70" y="139.88" font-size="8" text-anchor="middle" fill="#000">*</text>
<text x="441.30" y="224.60" font-size="4.5" text-anchor="end" fill="#000">G-CSF</text>
<text x="448.50" y="224.70" font-size="5" text-anchor="middle" fill="#000">-</text>
<text x="459.60" y="224.70" font-size="5" text-anchor="middle" fill="#000">+</text>
<text x="477.90" y="224.70" font-size="5" text-anchor="middle" fill="#000">-</text>
<text x="489.10" y="224.70" font-size="5" text-anchor="middle" fill="#000">+</text>
<text x="453.50" y="231.50" font-size="5.4" text-anchor="middle" fill="#000">WT</text>
<text x="483.80" y="231.50" font-size="5.4" text-anchor="middle" fill="#000">IL-6<tspan font-size="3.4" dy="-1.8">-/-</tspan></text>
<text x="0.40" y="254.00" font-size="10.5" font-weight="700" stroke="#000" stroke-width="0.12" text-anchor="start" fill="#000">I</text>
<line x1="25.00" y1="262.60" x2="25.00" y2="340.15" stroke="#000" stroke-width="1.2"/>
<line x1="24.60" y1="339.70" x2="73.00" y2="339.70" stroke="#000" stroke-width="1.2"/>
<line x1="22.50" y1="263.00" x2="25.00" y2="263.00" stroke="#000" stroke-width="1.0"/>
<text x="22.30" y="264.73" font-size="4.8" font-weight="700" stroke="#000" stroke-width="0.12" text-anchor="end" fill="#000">5000</text>
<line x1="22.50" y1="278.30" x2="25.00" y2="278.30" stroke="#000" stroke-width="1.0"/>
<text x="22.30" y="280.03" font-size="4.8" font-weight="700" stroke="#000" stroke-width="0.12" text-anchor="end" fill="#000">4000</text>
<line x1="22.50" y1="293.60" x2="25.00" y2="293.60" stroke="#000" stroke-width="1.0"/>
<text x="22.30" y="295.33" font-size="4.8" font-weight="700" stroke="#000" stroke-width="0.12" text-anchor="end" fill="#000">3000</text>
<line x1="22.50" y1="309.00" x2="25.00" y2="309.00" stroke="#000" stroke-width="1.0"/>
<text x="22.30" y="310.73" font-size="4.8" font-weight="700" stroke="#000" stroke-width="0.12" text-anchor="end" fill="#000">2000</text>
<line x1="22.50" y1="324.60" x2="25.00" y2="324.60" stroke="#000" stroke-width="1.0"/>
<text x="22.30" y="326.33" font-size="4.8" font-weight="700" stroke="#000" stroke-width="0.12" text-anchor="end" fill="#000">1000</text>
<text x="6.90" y="300.70" font-size="6.52" font-weight="700" stroke="#000" stroke-width="0.12" text-anchor="middle" fill="#000" transform="rotate(-90 6.90 300.70)">IL-17A (pg/ml)</text>
<line x1="30.15" y1="330.20" x2="30.15" y2="333.60" stroke="#000" stroke-width="1.15"/>
<line x1="27.82" y1="330.20" x2="32.48" y2="330.20" stroke="#000" stroke-width="1.15"/>
<rect x="26.95" y="333.85" width="6.40" height="5.85" fill="#fff" stroke="#000" stroke-width="1.1"/>
<line x1="40.35" y1="267.50" x2="40.35" y2="285.30" stroke="#000" stroke-width="1.15"/>
<line x1="37.96" y1="267.50" x2="42.74" y2="267.50" stroke="#000" stroke-width="1.15"/>
<rect x="36.50" y="285.00" width="7.70" height="54.70" fill="#000"/>
<line x1="58.05" y1="333.60" x2="58.05" y2="335.60" stroke="#000" stroke-width="1.15"/>
<line x1="55.72" y1="333.60" x2="60.38" y2="333.60" stroke="#000" stroke-width="1.15"/>
<rect x="54.85" y="335.85" width="6.40" height="3.85" fill="#fff" stroke="#000" stroke-width="1.1"/>
<line x1="68.35" y1="311.40" x2="68.35" y2="317.30" stroke="#000" stroke-width="1.15"/>
<line x1="65.90" y1="311.40" x2="70.80" y2="311.40" stroke="#000" stroke-width="1.15"/>
<rect x="64.40" y="317.00" width="7.90" height="22.70" fill="#000"/>
<line x1="39.70" y1="262.60" x2="68.00" y2="262.60" stroke="#000" stroke-width="1.3"/>
<text x="55.00" y="260.00" font-size="5.6" text-anchor="middle" fill="#000">NS</text>
<line x1="55.50" y1="306.60" x2="68.40" y2="306.60" stroke="#000" stroke-width="1.2"/>
<text x="61.70" y="306.94" font-size="8.5" font-weight="700" stroke="#000" stroke-width="0.12" text-anchor="middle" fill="#000">*</text>
<text x="24.30" y="347.30" font-size="4.5" text-anchor="end" fill="#000">G-CSF</text>
<text x="30.30" y="347.40" font-size="5" text-anchor="middle" fill="#000">-</text>
<text x="40.40" y="347.40" font-size="5" text-anchor="middle" fill="#000">+</text>
<text x="58.40" y="347.40" font-size="5" text-anchor="middle" fill="#000">-</text>
<text x="68.40" y="347.40" font-size="5" text-anchor="middle" fill="#000">+</text>
<text x="36.80" y="353.80" font-size="5.4" text-anchor="middle" fill="#000">WT</text>
<text x="67.20" y="353.80" font-size="5.4" text-anchor="middle" fill="#000">IL-12/23<tspan font-size="3.4" dy="-1.8">-/-</tspan></text>
<text x="89.70" y="254.00" font-size="10.5" font-weight="700" stroke="#000" stroke-width="0.12" text-anchor="start" fill="#000">J</text>
<line x1="121.80" y1="257.60" x2="121.80" y2="339.75" stroke="#000" stroke-width="1.2"/>
<line x1="121.40" y1="339.30" x2="173.50" y2="339.30" stroke="#000" stroke-width="1.2"/>
<line x1="119.30" y1="258.00" x2="121.80" y2="258.00" stroke="#000" stroke-width="1.0"/>
<text x="119.10" y="259.87" font-size="5.2" font-weight="700" stroke="#000" stroke-width="0.12" text-anchor="end" fill="#000">2500</text>
<line x1="119.30" y1="274.30" x2="121.80" y2="274.30" stroke="#000" stroke-width="1.0"/>
<text x="119.10" y="276.17" font-size="5.2" font-weight="700" stroke="#000" stroke-width="0.12" text-anchor="end" fill="#000">2000</text>
<line x1="119.30" y1="290.70" x2="121.80" y2="290.70" stroke="#000" stroke-width="1.0"/>
<text x="119.10" y="292.57" font-size="5.2" font-weight="700" stroke="#000" stroke-width="0.12" text-anchor="end" fill="#000">1500</text>
<line x1="119.30" y1="306.80" x2="121.80" y2="306.80" stroke="#000" stroke-width="1.0"/>
<text x="119.10" y="308.67" font-size="5.2" font-weight="700" stroke="#000" stroke-width="0.12" text-anchor="end" fill="#000">1000</text>
<line x1="119.30" y1="322.60" x2="121.80" y2="322.60" stroke="#000" stroke-width="1.0"/>
<text x="119.10" y="324.47" font-size="5.2" font-weight="700" stroke="#000" stroke-width="0.12" text-anchor="end" fill="#000">500</text>
<text x="102.80" y="298.30" font-size="6.82" font-weight="700" stroke="#000" stroke-width="0.12" text-anchor="middle" fill="#000" transform="rotate(-90 102.80 298.30)">IL-17A (pg/ml)</text>
<line x1="127.65" y1="332.50" x2="127.65" y2="334.30" stroke="#000" stroke-width="1.15"/>
<line x1="124.95" y1="332.50" x2="130.35" y2="332.50" stroke="#000" stroke-width="1.15"/>
<rect x="123.85" y="334.55" width="7.60" height="4.75" fill="#fff" stroke="#000" stroke-width="1.1"/>
<line x1="139.00" y1="268.00" x2="139.00" y2="287.10" stroke="#000" stroke-width="1.15"/>
<line x1="136.52" y1="268.00" x2="141.48" y2="268.00" stroke="#000" stroke-width="1.15"/>
<rect x="135.00" y="286.80" width="8.00" height="52.50" fill="#000"/>
<line x1="157.30" y1="325.60" x2="157.30" y2="329.10" stroke="#000" stroke-width="1.15"/>
<line x1="154.70" y1="325.60" x2="159.90" y2="325.60" stroke="#000" stroke-width="1.15"/>
<rect x="153.65" y="329.35" width="7.30" height="9.95" fill="#fff" stroke="#000" stroke-width="1.1"/>
<line x1="168.00" y1="319.30" x2="168.00" y2="325.60" stroke="#000" stroke-width="1.15"/>
<line x1="165.52" y1="319.30" x2="170.48" y2="319.30" stroke="#000" stroke-width="1.15"/>
<rect x="164.00" y="325.30" width="8.00" height="14.00" fill="#000"/>
<line x1="138.60" y1="262.70" x2="172.50" y2="262.70" stroke="#000" stroke-width="1.2"/>
<text x="155.00" y="261.78" font-size="8" text-anchor="middle" fill="#000">*</text>
<line x1="153.80" y1="314.00" x2="169.20" y2="314.00" stroke="#000" stroke-width="1.3"/>
<text x="161.60" y="312.20" font-size="5.8" text-anchor="middle" fill="#000">NS</text>
<text x="120.60" y="345.90" font-size="4.5" text-anchor="end" fill="#000">G-CSF</text>
<text x="127.80" y="346.00" font-size="5" text-anchor="middle" fill="#000">-</text>
<text x="139.00" y="346.00" font-size="5" text-anchor="middle" fill="#000">+</text>
<text x="157.20" y="346.00" font-size="5" text-anchor="middle" fill="#000">-</text>
<text x="168.00" y="346.00" font-size="5" text-anchor="middle" fill="#000">+</text>
<text x="132.30" y="351.30" font-size="5.4" text-anchor="middle" fill="#000">WT</text>
<text x="161.80" y="351.30" font-size="5.4" text-anchor="middle" fill="#000">IL-21R<tspan font-size="3.4" dy="-1.8">-/-</tspan></text>
<text x="190.60" y="254.00" font-size="10.5" font-weight="700" stroke="#000" stroke-width="0.12" text-anchor="start" fill="#000">K</text>
<line x1="220.00" y1="257.90" x2="220.00" y2="339.45" stroke="#000" stroke-width="1.2"/>
<line x1="219.60" y1="339.00" x2="271.50" y2="339.00" stroke="#000" stroke-width="1.2"/>
<line x1="217.50" y1="258.30" x2="220.00" y2="258.30" stroke="#000" stroke-width="1.0"/>
<text x="217.30" y="260.46" font-size="6.0" font-weight="700" stroke="#000" stroke-width="0.12" text-anchor="end" fill="#000">40</text>
<line x1="217.50" y1="278.40" x2="220.00" y2="278.40" stroke="#000" stroke-width="1.0"/>
<text x="217.30" y="280.56" font-size="6.0" font-weight="700" stroke="#000" stroke-width="0.12" text-anchor="end" fill="#000">30</text>
<line x1="217.50" y1="298.50" x2="220.00" y2="298.50" stroke="#000" stroke-width="1.0"/>
<text x="217.30" y="300.66" font-size="6.0" font-weight="700" stroke="#000" stroke-width="0.12" text-anchor="end" fill="#000">20</text>
<line x1="217.50" y1="318.60" x2="220.00" y2="318.60" stroke="#000" stroke-width="1.0"/>
<text x="217.30" y="320.76" font-size="6.0" font-weight="700" stroke="#000" stroke-width="0.12" text-anchor="end" fill="#000">10</text>
<line x1="217.50" y1="338.80" x2="220.00" y2="338.80" stroke="#000" stroke-width="1.0"/>
<text x="217.30" y="340.96" font-size="6.0" font-weight="700" stroke="#000" stroke-width="0.12" text-anchor="end" fill="#000">0</text>
<text x="198.60" y="298.60" font-size="6.21" font-weight="700" stroke="#000" stroke-width="0.12" text-anchor="middle" fill="#000" transform="rotate(-90 198.60 298.60)">IL-21 mRNA</text>
<text x="207.60" y="298.60" font-size="6.38" font-weight="700" stroke="#000" stroke-width="0.12" text-anchor="middle" fill="#000" transform="rotate(-90 207.60 298.60)">Relative Expression</text>
<line x1="227.55" y1="336.70" x2="227.55" y2="337.60" stroke="#000" stroke-width="1.15"/>
<line x1="225.23" y1="336.70" x2="229.88" y2="336.70" stroke="#000" stroke-width="1.15"/>
<rect x="224.15" y="337.65" width="6.80" height="1.35" fill="#fff" stroke="#000" stroke-width="0.7"/>
<rect x="234.50" y="337.80" width="8.00" height="1.20" fill="#000"/>
<line x1="254.10" y1="325.40" x2="254.10" y2="327.30" stroke="#000" stroke-width="1.15"/>
<line x1="251.56" y1="325.40" x2="256.64" y2="325.40" stroke="#000" stroke-width="1.15"/>
<rect x="250.55" y="327.55" width="7.10" height="11.45" fill="#fff" stroke="#000" stroke-width="1.1"/>
<line x1="265.45" y1="274.40" x2="265.45" y2="283.70" stroke="#000" stroke-width="1.15"/>
<line x1="262.81" y1="274.40" x2="268.08" y2="274.40" stroke="#000" stroke-width="1.15"/>
<rect x="261.20" y="283.40" width="8.50" height="55.60" fill="#000"/>
<line x1="251.20" y1="269.00" x2="265.80" y2="269.00" stroke="#000" stroke-width="1.2"/>
<text x="258.80" y="269.29" font-size="9" font-weight="700" stroke="#000" stroke-width="0.12" text-anchor="middle" fill="#000">*</text>
<text x="233.00" y="346.50" font-size="5" font-weight="700" stroke="#000" stroke-width="0.12" text-anchor="middle" fill="#000">T0</text>
<text x="259.30" y="346.50" font-size="5" font-weight="700" stroke="#000" stroke-width="0.12" text-anchor="middle" fill="#000">T24</text>
<line x1="315.00" y1="257.60" x2="315.00" y2="338.65" stroke="#000" stroke-width="1.2"/>
<line x1="314.60" y1="338.20" x2="435.60" y2="338.20" stroke="#000" stroke-width="1.2"/>
<line x1="312.50" y1="258.00" x2="315.00" y2="258.00" stroke="#000" stroke-width="1.0"/>
<text x="312.30" y="260.16" font-size="6.0" font-weight="700" stroke="#000" stroke-width="0.12" text-anchor="end" fill="#000">200</text>
<line x1="312.50" y1="277.80" x2="315.00" y2="277.80" stroke="#000" stroke-width="1.0"/>
<text x="312.30" y="279.96" font-size="6.0" font-weight="700" stroke="#000" stroke-width="0.12" text-anchor="end" fill="#000">150</text>
<line x1="312.50" y1="298.00" x2="315.00" y2="298.00" stroke="#000" stroke-width="1.0"/>
<text x="312.30" y="300.16" font-size="6.0" font-weight="700" stroke="#000" stroke-width="0.12" text-anchor="end" fill="#000">100</text>
<line x1="312.50" y1="318.00" x2="315.00" y2="318.00" stroke="#000" stroke-width="1.0"/>
<text x="312.30" y="320.16" font-size="6.0" font-weight="700" stroke="#000" stroke-width="0.12" text-anchor="end" fill="#000">50</text>
<line x1="312.50" y1="338.00" x2="315.00" y2="338.00" stroke="#000" stroke-width="1.0"/>
<text x="312.30" y="340.16" font-size="6.0" font-weight="700" stroke="#000" stroke-width="0.12" text-anchor="end" fill="#000">0</text>
<text x="291.40" y="297.90" font-size="6.46" font-weight="700" stroke="#000" stroke-width="0.12" text-anchor="middle" fill="#000" transform="rotate(-90 291.40 297.90)">IL-21 mRNA</text>
<text x="299.40" y="297.90" font-size="6.4" font-weight="700" stroke="#000" stroke-width="0.12" text-anchor="middle" fill="#000" transform="rotate(-90 299.40 297.90)">Relative Expression</text>
<line x1="351.30" y1="337.40" x2="359.50" y2="337.40" stroke="#555" stroke-width="0.5"/>
<line x1="324.00" y1="327.30" x2="324.00" y2="330.60" stroke="#000" stroke-width="1.15"/>
<line x1="321.15" y1="327.30" x2="326.85" y2="327.30" stroke="#000" stroke-width="1.15"/>
<rect x="319.95" y="330.85" width="8.10" height="7.35" fill="#fff" stroke="#000" stroke-width="1.1"/>
<line x1="336.65" y1="294.30" x2="336.65" y2="301.40" stroke="#000" stroke-width="1.15"/>
<line x1="333.77" y1="294.30" x2="339.53" y2="294.30" stroke="#000" stroke-width="1.15"/>
<rect x="332.00" y="301.10" width="9.30" height="37.10" fill="#000"/>
<rect x="362.50" y="336.60" width="8.80" height="1.60" fill="#000"/>
<line x1="384.25" y1="323.60" x2="384.25" y2="327.30" stroke="#000" stroke-width="1.15"/>
<line x1="381.37" y1="323.60" x2="387.13" y2="323.60" stroke="#000" stroke-width="1.15"/>
<rect x="380.15" y="327.55" width="8.20" height="10.65" fill="#fff" stroke="#000" stroke-width="1.1"/>
<line x1="397.30" y1="269.50" x2="397.30" y2="277.80" stroke="#000" stroke-width="1.15"/>
<line x1="394.51" y1="269.50" x2="400.09" y2="269.50" stroke="#000" stroke-width="1.15"/>
<rect x="392.80" y="277.50" width="9.00" height="60.70" fill="#000"/>
<line x1="427.20" y1="333.60" x2="427.20" y2="334.90" stroke="#000" stroke-width="1.15"/>
<line x1="424.35" y1="333.60" x2="430.05" y2="333.60" stroke="#000" stroke-width="1.15"/>
<rect x="422.60" y="334.60" width="9.20" height="3.60" fill="#000"/>
<line x1="322.50" y1="288.80" x2="336.80" y2="288.80" stroke="#000" stroke-width="1.2"/>
<text x="329.30" y="289.09" font-size="9" font-weight="700" stroke="#000" stroke-width="0.12" text-anchor="middle" fill="#000">*</text>
<line x1="383.00" y1="263.80" x2="397.00" y2="263.80" stroke="#000" stroke-width="1.2"/>
<text x="389.50" y="263.39" font-size="9" font-weight="700" stroke="#000" stroke-width="0.12" text-anchor="middle" fill="#000">*</text>
<text x="330.00" y="346.10" font-size="5.7" font-weight="700" stroke="#000" stroke-width="0.12" text-anchor="middle" fill="#000">CD3 +</text>
<text x="360.70" y="346.10" font-size="5.7" font-weight="700" stroke="#000" stroke-width="0.12" text-anchor="middle" fill="#000">CD3 -</text>
<text x="390.50" y="346.10" font-size="5.7" font-weight="700" stroke="#000" stroke-width="0.12" text-anchor="middle" fill="#000">CD4+</text>
<text x="420.90" y="346.10" font-size="5.7" font-weight="700" stroke="#000" stroke-width="0.12" text-anchor="middle" fill="#000">CD8+</text>
<text x="441.00" y="253.60" font-size="10.5" font-weight="700" stroke="#000" stroke-width="0.12" text-anchor="start" fill="#000">L</text>
<line x1="468.80" y1="258.90" x2="468.80" y2="339.75" stroke="#000" stroke-width="1.2"/>
<line x1="468.40" y1="339.30" x2="519.50" y2="339.30" stroke="#000" stroke-width="1.2"/>
<line x1="466.30" y1="259.30" x2="468.80" y2="259.30" stroke="#000" stroke-width="1.0"/>
<text x="466.10" y="260.96" font-size="4.6" font-weight="700" stroke="#000" stroke-width="0.12" text-anchor="end" fill="#000">150</text>
<line x1="466.30" y1="286.20" x2="468.80" y2="286.20" stroke="#000" stroke-width="1.0"/>
<text x="466.10" y="287.86" font-size="4.6" font-weight="700" stroke="#000" stroke-width="0.12" text-anchor="end" fill="#000">100</text>
<line x1="466.30" y1="312.90" x2="468.80" y2="312.90" stroke="#000" stroke-width="1.0"/>
<text x="466.10" y="314.56" font-size="4.6" font-weight="700" stroke="#000" stroke-width="0.12" text-anchor="end" fill="#000">50</text>
<text x="446.30" y="299.20" font-size="6.71" font-weight="700" stroke="#000" stroke-width="0.12" text-anchor="middle" fill="#000" transform="rotate(-90 446.30 299.20)">CD4<tspan font-size="4" dy="-2">+</tspan><tspan dy="2"> IL-21 mRNA</tspan></text>
<text x="453.80" y="298.50" font-size="6.52" font-weight="700" stroke="#000" stroke-width="0.12" text-anchor="middle" fill="#000" transform="rotate(-90 453.80 298.50)">Relative Expression</text>
<line x1="473.55" y1="324.40" x2="473.55" y2="326.50" stroke="#000" stroke-width="1.15"/>
<line x1="471.04" y1="324.40" x2="476.06" y2="324.40" stroke="#000" stroke-width="1.15"/>
<rect x="470.05" y="326.75" width="7.00" height="12.55" fill="#fff" stroke="#000" stroke-width="1.1"/>
<line x1="484.95" y1="279.70" x2="484.95" y2="286.10" stroke="#000" stroke-width="1.15"/>
<line x1="482.44" y1="279.70" x2="487.46" y2="279.70" stroke="#000" stroke-width="1.15"/>
<rect x="480.90" y="285.80" width="8.10" height="53.50" fill="#000"/>
<line x1="503.10" y1="319.50" x2="503.10" y2="322.30" stroke="#000" stroke-width="1.15"/>
<line x1="500.56" y1="319.50" x2="505.64" y2="319.50" stroke="#000" stroke-width="1.15"/>
<rect x="499.55" y="322.55" width="7.10" height="16.75" fill="#fff" stroke="#000" stroke-width="1.1"/>
<line x1="514.50" y1="285.60" x2="514.50" y2="291.10" stroke="#000" stroke-width="1.15"/>
<line x1="511.96" y1="285.60" x2="517.04" y2="285.60" stroke="#000" stroke-width="1.15"/>
<rect x="510.40" y="290.80" width="8.20" height="48.50" fill="#000"/>
<line x1="472.80" y1="275.50" x2="486.50" y2="275.50" stroke="#000" stroke-width="1.2"/>
<text x="479.50" y="274.58" font-size="8" text-anchor="middle" fill="#000">*</text>
<line x1="501.20" y1="279.30" x2="514.50" y2="279.30" stroke="#000" stroke-width="1.2"/>
<text x="507.60" y="278.38" font-size="8" text-anchor="middle" fill="#000">*</text>
<text x="466.30" y="344.20" font-size="4.5" text-anchor="end" fill="#000">G-CSF</text>
<text x="473.50" y="344.30" font-size="5" text-anchor="middle" fill="#000">-</text>
<text x="484.80" y="344.30" font-size="5" text-anchor="middle" fill="#000">+</text>
<text x="503.10" y="344.30" font-size="5" text-anchor="middle" fill="#000">-</text>
<text x="514.20" y="344.30" font-size="5" text-anchor="middle" fill="#000">+</text>
<text x="478.00" y="351.20" font-size="5.4" text-anchor="middle" fill="#000">WT</text>
<text x="508.80" y="351.20" font-size="5.4" text-anchor="middle" fill="#000">IL-17A<tspan font-size="3.4" dy="-1.8">-/-</tspan></text>
</g>
</svg>
</body></html>
